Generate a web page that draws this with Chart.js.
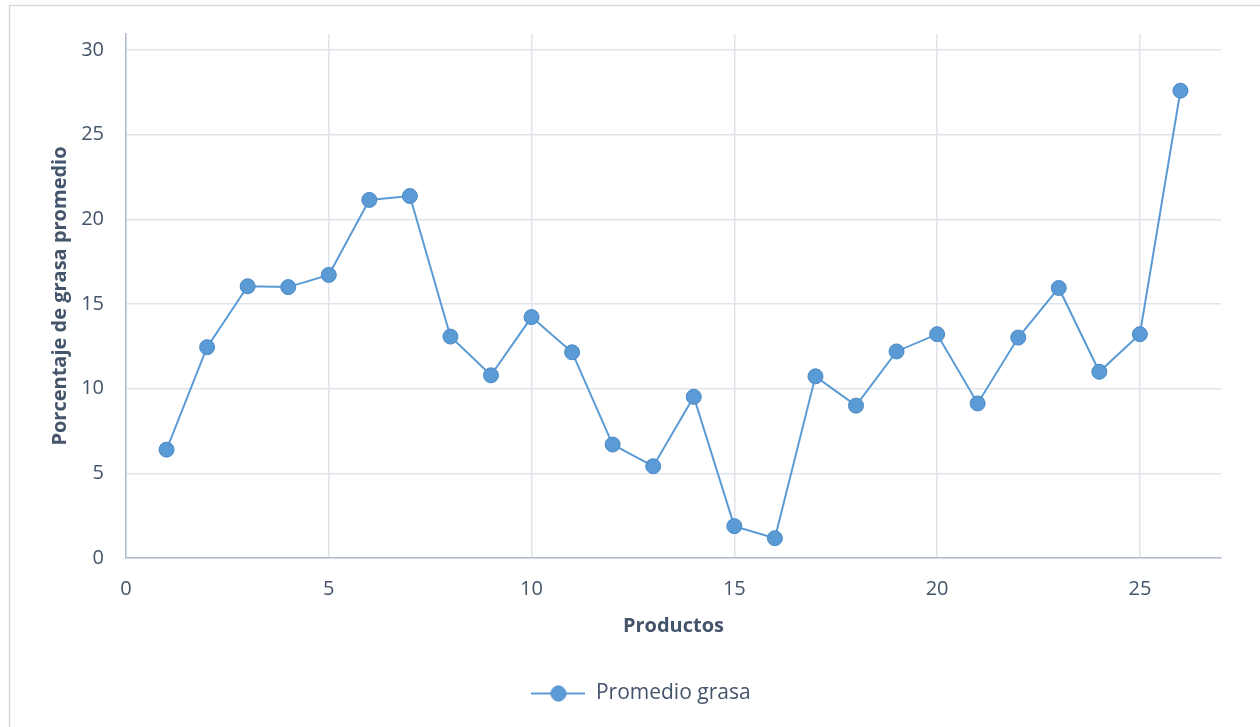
<!DOCTYPE html>
<html>
<head>
<meta charset="utf-8">
<script src="https://cdn.jsdelivr.net/npm/chart.js@4.4.1/dist/chart.umd.min.js"></script>
<style>
  html, body { margin: 0; padding: 0; background: #ffffff; }
  #wrap { width: 1260px; height: 727px; position: relative; }
</style>
</head>
<body>
<div id="wrap"><canvas id="c" width="1260" height="727"></canvas></div>
<script>
// Product number and average fat percentage per product
const productos = [1, 2, 3, 4, 5, 6, 7, 8, 9, 10, 11, 12, 13, 14, 15, 16, 17, 18, 19, 20, 21, 22, 23, 24, 25, 26];
const promedioGrasa = [6.4, 12.45, 16.05, 16.0, 16.72, 21.15, 21.38, 13.08, 10.79, 14.23, 12.15, 6.7, 5.42, 9.52, 1.88, 1.17, 10.73, 9.0, 12.2, 13.22, 9.13, 13.02, 15.95, 11.0, 13.22, 27.6];
const yTicks = [0, 5, 10, 15, 20, 25, 30];
const xTicks = [0, 5, 10, 15, 20, 25];

const serieNombre = 'Promedio grasa';
const ejeX = 'Productos';
const ejeY = 'Porcentaje de grasa promedio';

const LINE = '#5b9bd5';
const MARKER_EDGE = '#4a89c6';
const TEXT = '#44546a';
const GRID = '#dfe3ea';
const AXIS = '#b3bdcc';
const FONT = "'Open Sans', 'Liberation Sans', sans-serif";

const puntos = productos.map((p, i) => ({ x: p, y: promedioGrasa[i] }));

// Legend symbol: short line with a round marker in the middle
const legendIcon = document.createElement('canvas');
legendIcon.width = 54; legendIcon.height = 18;
(function () {
  const g = legendIcon.getContext('2d');
  g.strokeStyle = LINE; g.lineWidth = 2;
  g.beginPath(); g.moveTo(0, 9); g.lineTo(54, 9); g.stroke();
  g.fillStyle = LINE; g.strokeStyle = MARKER_EDGE; g.lineWidth = 1;
  g.beginPath(); g.arc(27, 9, 7.5, 0, Math.PI * 2); g.fill(); g.stroke();
})();

// Light frame around the whole chart
const frame = {
  id: 'frame',
  beforeDraw(chart) {
    const ctx = chart.ctx;
    ctx.save();
    ctx.fillStyle = '#ffffff';
    ctx.fillRect(0, 0, chart.width, chart.height);
    ctx.strokeStyle = '#d9d9d9';
    ctx.lineWidth = 1.5;
    ctx.strokeRect(9.5, 5.5, 1400, 900);
    ctx.restore();
  }
};

// Center the legend under the whole frame rather than the plot
const legendShift = {
  id: 'legendShift',
  afterLayout(chart) {
    const lg = chart.legend;
    if (lg) { lg.left += 26; lg.right += 26; }
  }
};

new Chart(document.getElementById('c'), {
  type: 'line',
  data: {
    datasets: [{
      label: serieNombre,
      data: puntos,
      borderColor: LINE,
      backgroundColor: LINE,
      borderWidth: 2,
      pointRadius: 7.5,
      pointBorderColor: MARKER_EDGE,
      pointBorderWidth: 1,
      pointBackgroundColor: LINE,
      tension: 0,
      fill: false
    }]
  },
  options: {
    responsive: false,
    animation: false,
    layout: { padding: { left: 9, top: 34, right: 39, bottom: 13 } },
    plugins: {
      tooltip: { enabled: false },
      legend: {
        position: 'bottom',
        labels: {
          usePointStyle: true,
          pointStyle: legendIcon,
          pointStyleWidth: 54,
          padding: 10,
          color: TEXT,
          font: { family: FONT, size: 21 }
        }
      }
    },
    scales: {
      x: {
        type: 'linear',
        min: 0,
        max: 27,
        afterBuildTicks(axis) { axis.ticks = xTicks.map(v => ({ value: v })); },
        afterFit(axis) { axis.height = 115; },
        grid: { color: GRID, lineWidth: 1.5, drawTicks: false },
        border: { color: AXIS, width: 1.5 },
        ticks: { color: TEXT, font: { family: FONT, size: 20 }, padding: 19, maxRotation: 0 },
        title: {
          display: true, text: ejeX, color: TEXT,
          font: { family: FONT, size: 20, weight: 'bold' },
          padding: { top: 0, bottom: 35 }
        }
      },
      y: {
        type: 'linear',
        min: 0,
        max: 30.95,
        afterBuildTicks(axis) { axis.ticks = yTicks.map(v => ({ value: v })); },
        afterFit(axis) { axis.width = 117; },
        grid: { color: GRID, lineWidth: 1.5, drawTicks: false },
        border: { color: AXIS, width: 1.5 },
        ticks: { color: TEXT, font: { family: FONT, size: 20 }, padding: 22 },
        title: {
          display: true, text: ejeY, color: TEXT,
          font: { family: FONT, size: 20, weight: 'bold' },
          padding: { top: 39, bottom: 0 }
        }
      }
    }
  },
  plugins: [frame, legendShift]
});
</script>
</body>
</html>
